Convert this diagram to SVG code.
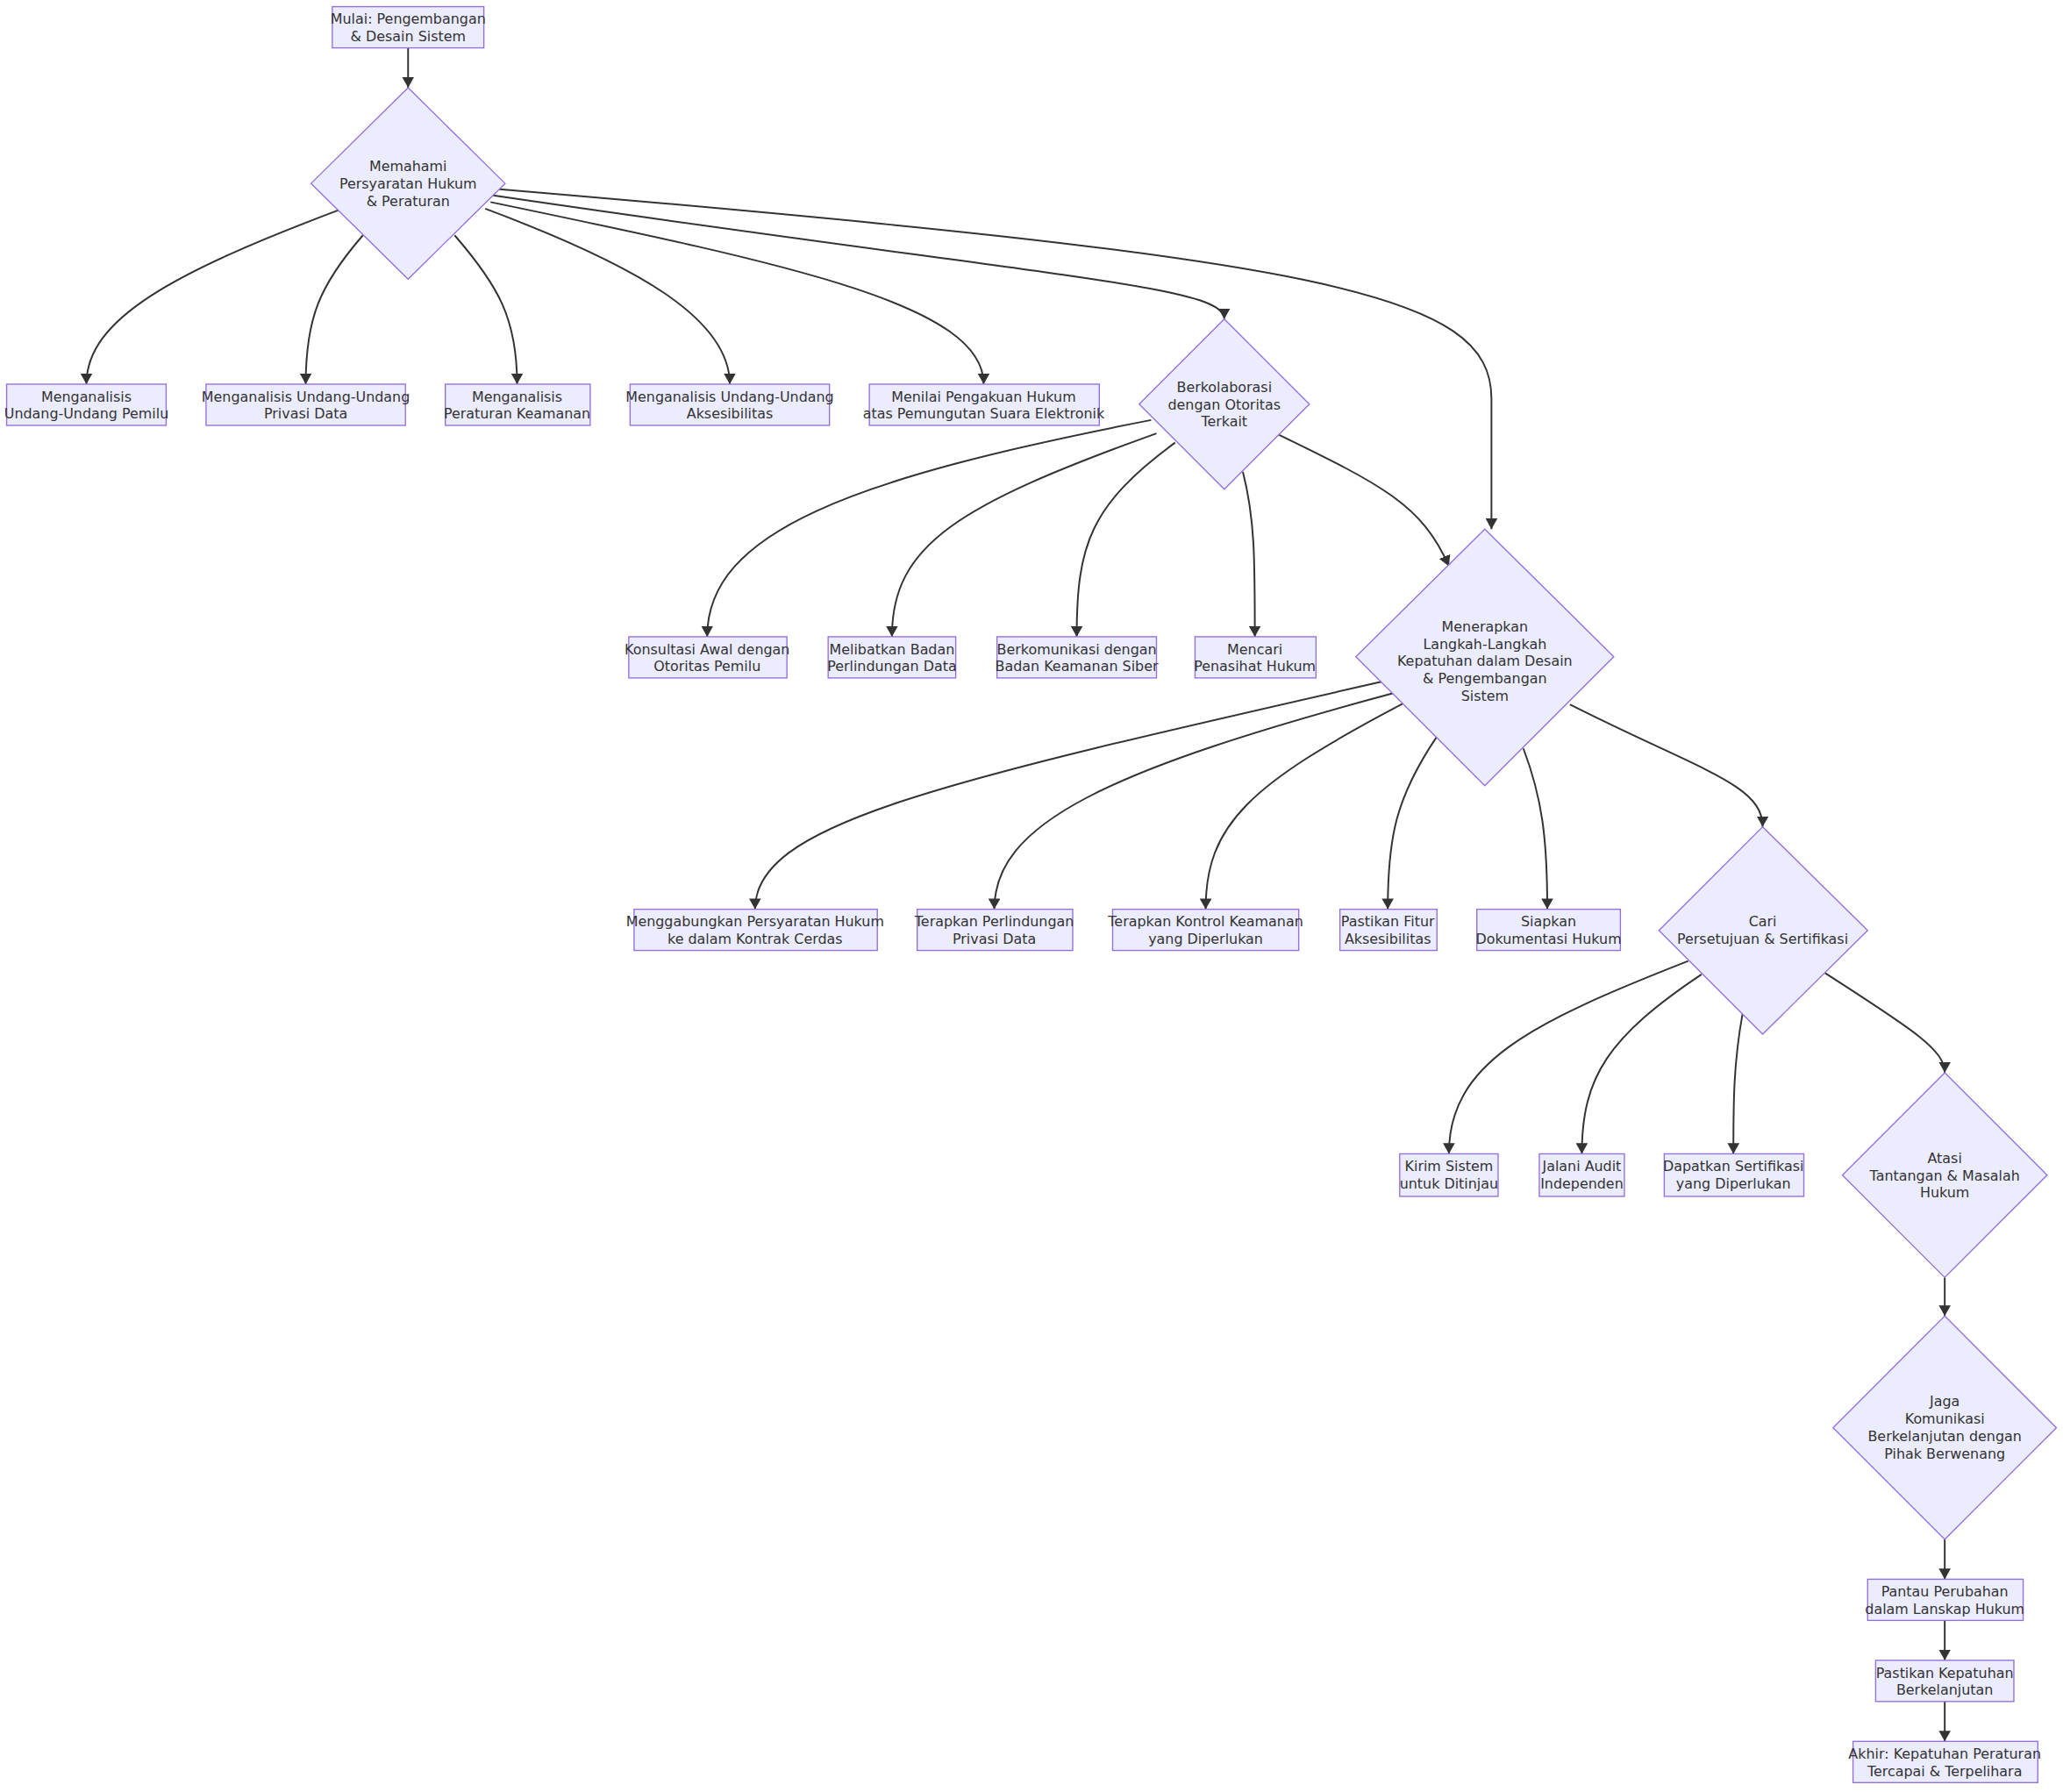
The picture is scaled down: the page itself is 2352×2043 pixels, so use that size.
<svg xmlns="http://www.w3.org/2000/svg" width="2352" height="2043" viewBox="0 0 2352 2043">
<style>
.n{fill:#ECECFF;stroke:#9370DB;stroke-width:0.9}
.e{fill:none;stroke:#333;stroke-width:1.3}
text{font-family:"DejaVu Sans",Verdana,sans-serif;font-size:10.5px;fill:#333;text-anchor:middle}
</style>
<defs><marker id="a" markerUnits="userSpaceOnUse" markerWidth="9" markerHeight="9" refX="8" refY="4.5" orient="auto"><path d="M0,0L8,4.5L0,9z" fill="#333"/></marker></defs>
<rect width="2352" height="2043" fill="#fff"/>
<g transform="scale(1.5155)">
<g id="edges" class="e" marker-end="url(#a)">
<path d="M307,36L307,66"/>
<path d="M255,158C130,205 65,240 65,289"/>
<path d="M273,177C240,215 230,240 230,289"/>
<path d="M342,177C375,215 389,240 389,289"/>
<path d="M365,157C480,200 549,240 549,289"/>
<path d="M369,152C600,200 740,230 740,289"/>
<path d="M371,147C800,210 921,215 921,240"/>
<path d="M372,142C1000,195 1122,220 1122,300L1122,398"/>
<path d="M866,316C640,360 532,400 532,479"/>
<path d="M870,326C720,380 671,410 671,479"/>
<path d="M884,333C820,380 810,410 810,479"/>
<path d="M935,355C944,390 944,420 944,479"/>
<path d="M962,327C1040,365 1070,380 1090,426"/>
<path d="M1043,512C700,590 568,620 568,684"/>
<path d="M1050,521C830,580 748,620 748,684"/>
<path d="M1056,529C940,590 907,620 907,684"/>
<path d="M1081,554C1050,600 1044,630 1044,684"/>
<path d="M1146,563C1160,600 1164,630 1164,684"/>
<path d="M1181,530C1280,580 1326,590 1326,622"/>
<path d="M1270,723C1150,770 1090,800 1090,868"/>
<path d="M1280,733C1210,780 1190,810 1190,868"/>
<path d="M1311,762C1304,800 1304,830 1304,868"/>
<path d="M1373,732C1440,775 1463,790 1463,807"/>
<path d="M1463,961L1463,990"/>
<path d="M1463,1158L1463,1188"/>
<path d="M1463,1219L1463,1249"/>
<path d="M1463,1280L1463,1310"/>
</g>
<g id="start"><rect class="n" x="250" y="5" width="114" height="31"/><text x="307" y="18">Mulai: Pengembangan</text><text x="307" y="31">&amp; Desain Sistem</text></g>
<g id="d1"><path class="n" d="M307,66L380,138L307,210L234,138z"/><text x="307" y="129">Memahami</text><text x="307" y="142">Persyaratan Hukum</text><text x="307" y="155">&amp; Peraturan</text></g>
<g id="b1"><rect class="n" x="5" y="289" width="120" height="31"/><text x="65" y="302">Menganalisis</text><text x="65" y="315">Undang-Undang Pemilu</text></g>
<g id="b2"><rect class="n" x="155" y="289" width="150" height="31"/><text x="230" y="302">Menganalisis Undang-Undang</text><text x="230" y="315">Privasi Data</text></g>
<g id="b3"><rect class="n" x="335" y="289" width="109" height="31"/><text x="389" y="302">Menganalisis</text><text x="389" y="315">Peraturan Keamanan</text></g>
<g id="b4"><rect class="n" x="474" y="289" width="150" height="31"/><text x="549" y="302">Menganalisis Undang-Undang</text><text x="549" y="315">Aksesibilitas</text></g>
<g id="b5"><rect class="n" x="654" y="289" width="173" height="31"/><text x="740" y="302">Menilai Pengakuan Hukum</text><text x="740" y="315">atas Pemungutan Suara Elektronik</text></g>
<g id="d2"><path class="n" d="M921,240L985,304L921,368L857,304z"/><text x="921" y="295">Berkolaborasi</text><text x="921" y="308">dengan Otoritas</text><text x="921" y="321">Terkait</text></g>
<g id="c1"><rect class="n" x="473" y="479" width="119" height="31"/><text x="532" y="492">Konsultasi Awal dengan</text><text x="532" y="505">Otoritas Pemilu</text></g>
<g id="c2"><rect class="n" x="623" y="479" width="96" height="31"/><text x="671" y="492">Melibatkan Badan</text><text x="671" y="505">Perlindungan Data</text></g>
<g id="c3"><rect class="n" x="750" y="479" width="120" height="31"/><text x="810" y="492">Berkomunikasi dengan</text><text x="810" y="505">Badan Keamanan Siber</text></g>
<g id="c4"><rect class="n" x="899" y="479" width="91" height="31"/><text x="944" y="492">Mencari</text><text x="944" y="505">Penasihat Hukum</text></g>
<g id="d3"><path class="n" d="M1117,398L1214,494L1117,591L1020,494z"/><text x="1117" y="475">Menerapkan</text><text x="1117" y="488">Langkah-Langkah</text><text x="1117" y="501">Kepatuhan dalam Desain</text><text x="1117" y="514">&amp; Pengembangan</text><text x="1117" y="527">Sistem</text></g>
<g id="r1"><rect class="n" x="477" y="684" width="183" height="31"/><text x="568" y="697">Menggabungkan Persyaratan Hukum</text><text x="568" y="710">ke dalam Kontrak Cerdas</text></g>
<g id="r2"><rect class="n" x="690" y="684" width="117" height="31"/><text x="748" y="697">Terapkan Perlindungan</text><text x="748" y="710">Privasi Data</text></g>
<g id="r3"><rect class="n" x="837" y="684" width="140" height="31"/><text x="907" y="697">Terapkan Kontrol Keamanan</text><text x="907" y="710">yang Diperlukan</text></g>
<g id="r4"><rect class="n" x="1008" y="684" width="73" height="31"/><text x="1044" y="697">Pastikan Fitur</text><text x="1044" y="710">Aksesibilitas</text></g>
<g id="r5"><rect class="n" x="1111" y="684" width="108" height="31"/><text x="1165" y="697">Siapkan</text><text x="1165" y="710">Dokumentasi Hukum</text></g>
<g id="d4"><path class="n" d="M1326,622L1405,700L1326,778L1248,700z"/><text x="1326" y="697">Cari</text><text x="1326" y="710">Persetujuan &amp; Sertifikasi</text></g>
<g id="s1"><rect class="n" x="1053" y="868" width="74" height="32"/><text x="1090" y="881">Kirim Sistem</text><text x="1090" y="894">untuk Ditinjau</text></g>
<g id="s2"><rect class="n" x="1158" y="868" width="64" height="32"/><text x="1190" y="881">Jalani Audit</text><text x="1190" y="894">Independen</text></g>
<g id="s3"><rect class="n" x="1252" y="868" width="105" height="32"/><text x="1304" y="881">Dapatkan Sertifikasi</text><text x="1304" y="894">yang Diperlukan</text></g>
<g id="d5"><path class="n" d="M1463,807L1540,884L1463,961L1386,884z"/><text x="1463" y="875">Atasi</text><text x="1463" y="888">Tantangan &amp; Masalah</text><text x="1463" y="901">Hukum</text></g>
<g id="d6"><path class="n" d="M1463,990L1547,1074L1463,1158L1379,1074z"/><text x="1463" y="1058">Jaga</text><text x="1463" y="1071">Komunikasi</text><text x="1463" y="1084">Berkelanjutan dengan</text><text x="1463" y="1097">Pihak Berwenang</text></g>
<g id="p1"><rect class="n" x="1405" y="1188" width="117" height="31"/><text x="1463" y="1201">Pantau Perubahan</text><text x="1463" y="1214">dalam Lanskap Hukum</text></g>
<g id="p2"><rect class="n" x="1411" y="1249" width="104" height="31"/><text x="1463" y="1262">Pastikan Kepatuhan</text><text x="1463" y="1275">Berkelanjutan</text></g>
<g id="p3"><rect class="n" x="1394" y="1310" width="139" height="31"/><text x="1463" y="1323">Akhir: Kepatuhan Peraturan</text><text x="1463" y="1336">Tercapai &amp; Terpelihara</text></g>
</g>
</svg>
